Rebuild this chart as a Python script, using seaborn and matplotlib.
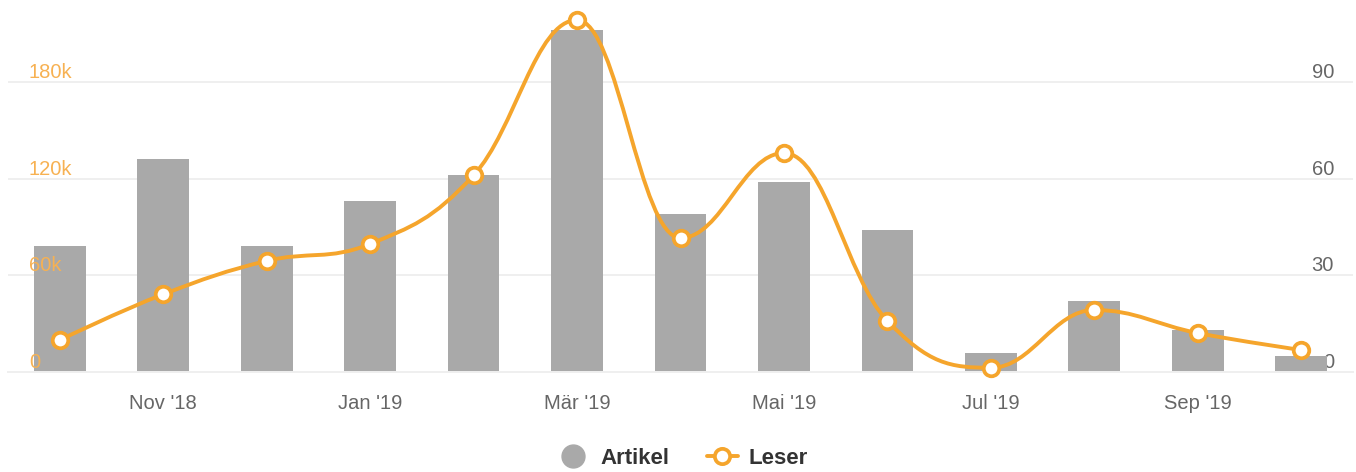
import numpy as np
import pandas as pd
import matplotlib
matplotlib.use("Agg")
import matplotlib.pyplot as plt
import seaborn as sns
from matplotlib.path import Path
from matplotlib.patches import PathPatch
from matplotlib.lines import Line2D

months = ["Okt '18", "Nov '18", "Dez '18", "Jan '19", "Feb '19", "Mär '19", "Apr '19",
          "Mai '19", "Jun '19", "Jul '19", "Aug '19", "Sep '19", "Okt '19"]
artikel = [39, 66, 39, 53, 61, 106, 49, 59, 44, 6, 22, 13, 5]
leser = [20000, 48300, 69000, 79500, 122000, 218200, 83200, 135800, 31800, 2800, 38600, 24300, 13800]

left_ticks = [0, 60000, 120000, 180000]
left_labels = ["0", "60k", "120k", "180k"]
right_ticks = [0, 30, 60, 90]
xtick_pos = [1, 3, 5, 7, 9, 11]

BAR_GRAY = "#a9a9a9"
ORANGE = "#f5a52c"
ORANGE_LIGHT = "#f7b152"
GRID = "#efefef"


def spline_path(xs, ys, smoothing=1.5):
    # bezier spline through the points, highcharts style
    n = len(xs)
    denom = smoothing + 1
    lc = [(xs[i], ys[i]) for i in range(n)]
    rc = [(xs[i], ys[i]) for i in range(n)]
    for i in range(1, n - 1):
        px, py = xs[i], ys[i]
        lx, ly = xs[i - 1], ys[i - 1]
        nx, ny = xs[i + 1], ys[i + 1]
        lcx = (smoothing * px + lx) / denom
        lcy = (smoothing * py + ly) / denom
        rcx = (smoothing * px + nx) / denom
        rcy = (smoothing * py + ny) / denom
        if rcx != lcx:
            corr = (rcy - lcy) * (rcx - px) / (rcx - lcx) + py - rcy
            lcy += corr
            rcy += corr
        if lcy > ly and lcy > py:
            lcy = max(ly, py)
            rcy = 2 * py - lcy
        elif lcy < ly and lcy < py:
            lcy = min(ly, py)
            rcy = 2 * py - lcy
        if rcy > ny and rcy > py:
            rcy = max(ny, py)
            lcy = 2 * py - rcy
        elif rcy < ny and rcy < py:
            rcy = min(ny, py)
            lcy = 2 * py - rcy
        lc[i] = (lcx, lcy)
        rc[i] = (rcx, rcy)
    verts = [(xs[0], ys[0])]
    codes = [Path.MOVETO]
    for i in range(1, n):
        verts += [rc[i - 1], lc[i], (xs[i], ys[i])]
        codes += [Path.CURVE4] * 3
    return Path(verts, codes)


sns.set_theme(style="white")
plt.rcParams["font.family"] = ["Liberation Sans", "DejaVu Sans"]

df = pd.DataFrame({"month": months, "artikel": artikel, "leser": leser})

fig = plt.figure(figsize=(13.56, 4.72), dpi=100)
ax = fig.add_axes([8 / 1356, 99.7 / 472, 1345 / 1356, 367.3 / 472])
ax2 = ax.twinx()

# bars (right axis)
sns.barplot(data=df, x="month", y="artikel", color=BAR_GRAY, width=0.5,
            saturation=1, ax=ax2, zorder=2)
for p in ax2.patches:
    p.set_edgecolor("none")
ax2.set_ylim(0, 113.75)
ax2.set_yticks(right_ticks)
ax2.yaxis.grid(True, color=GRID, linewidth=1.4)
ax2.set_axisbelow(True)
ax2.set_ylabel("")
ax2.tick_params(axis="y", length=0, pad=-13.7, labelsize=14.5, labelcolor="#666666")
for lab in ax2.get_yticklabels():
    lab.set_horizontalalignment("right")
    lab.set_verticalalignment("bottom")

# line (left axis), drawn above the bars
ax.set_zorder(ax2.get_zorder() + 1)
ax.patch.set_visible(False)
ax.set_ylim(0, 227500)
ax.set_yticks(left_ticks, left_labels)
ax.tick_params(axis="y", length=0, pad=-15.1, labelsize=14.5, labelcolor=ORANGE_LIGHT)
for lab in ax.get_yticklabels():
    lab.set_horizontalalignment("left")
    lab.set_verticalalignment("bottom")

xs = list(range(len(months)))
ax.add_patch(PathPatch(spline_path(xs, leser), facecolor="none", edgecolor=ORANGE,
                       linewidth=2.8, clip_on=False, zorder=3))
ax.plot(xs, leser, linestyle="none", marker="o", markersize=11.2,
        markerfacecolor="white", markeredgecolor=ORANGE, markeredgewidth=2.7,
        clip_on=False, zorder=4)

ax.set_xlim(-0.5, len(months) - 0.5)
ax.set_xticks(xtick_pos, [months[i] for i in xtick_pos])
ax.tick_params(axis="x", length=12, width=1, color=GRID, pad=3.5, labelsize=14.5,
               labelcolor="#666666")
ax2.tick_params(axis="x", length=0)
ax.set_xlabel("")
ax2.set_xlabel("")

for a in (ax, ax2):
    for side in ("top", "left", "right"):
        a.spines[side].set_visible(False)
    a.spines["bottom"].set_color(GRID)
    a.spines["bottom"].set_linewidth(1.4)

handles = [
    Line2D([], [], linestyle="none", marker="o", markersize=16.5, color=BAR_GRAY),
    Line2D([], [], color=ORANGE, linewidth=2.8, marker="o", markersize=11,
           markerfacecolor="white", markeredgecolor=ORANGE, markeredgewidth=2.7),
]
fig.legend(handles, ["Artikel", "Leser"], loc="center", bbox_to_anchor=(683 / 1356, 14 / 472),
           ncol=2, frameon=False, handlelength=1.4, handletextpad=0.5, columnspacing=1.7,
           prop={"weight": "bold", "size": 16}, labelcolor="#333333")

fig.savefig("out.png", dpi=100)
